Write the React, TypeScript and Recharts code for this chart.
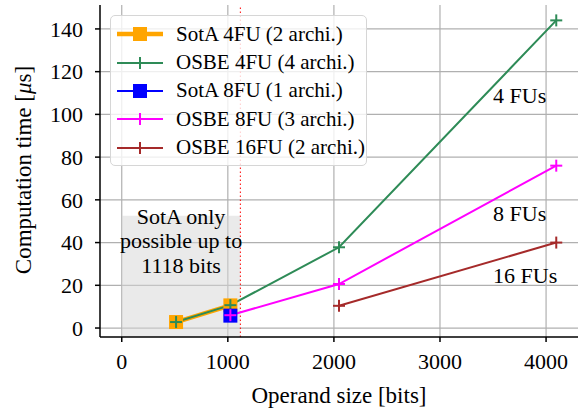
import React from 'react';
import { ComposedChart, Line, XAxis, YAxis, CartesianGrid, ReferenceArea, ReferenceLine, ReferenceDot } from 'recharts';

// operand sizes (bits) and computation times (µs)
const sota4Sizes = [512, 1024];
const sota4Times = [2.8, 10.6];
const osbe4Sizes = [512, 1024, 2048, 4096];
const osbe4Times = [2.8, 10.7, 37.8, 144.0];
const sota8Sizes = [1024];
const sota8Times = [5.8];
const osbe8Sizes = [1024, 2048, 4096];
const osbe8Times = [6.0, 20.6, 76.0];
const osbe16Sizes = [2048, 4096];
const osbe16Times = [10.4, 40.0];

const xTicks = [0, 1000, 2000, 3000, 4000];
const yTicks = [0, 20, 40, 60, 80, 100, 120, 140];

const sotaLimit = 1118;
const sotaRegionTop = 52.5;

const FONT = '"Liberation Serif", "DejaVu Serif", serif';

type Marker = 'square' | 'plus';

interface SeriesDef {
  name: string;
  color: string;
  marker: Marker;
  width: number;
  sizes: number[];
  times: number[];
}

const series: SeriesDef[] = [
  { name: 'SotA 4FU (2 archi.)', color: '#FFA500', marker: 'square', width: 4.5, sizes: sota4Sizes, times: sota4Times },
  { name: 'OSBE 4FU (4 archi.)', color: '#2E8B57', marker: 'plus', width: 2, sizes: osbe4Sizes, times: osbe4Times },
  { name: 'SotA 8FU (1 archi.)', color: '#0000FF', marker: 'square', width: 2, sizes: sota8Sizes, times: sota8Times },
  { name: 'OSBE 8FU (3 archi.)', color: '#FF00FF', marker: 'plus', width: 2, sizes: osbe8Sizes, times: osbe8Times },
  { name: 'OSBE 16FU (2 archi.)', color: '#A52A2A', marker: 'plus', width: 2, sizes: osbe16Sizes, times: osbe16Times },
];

const toPoints = (sizes: number[], times: number[]) => sizes.map((x, i) => ({ x, y: times[i] }));

const drawMarker = (marker: Marker, color: string, cx: number, cy: number, key?: string) => {
  if (marker === 'square') {
    return <rect key={key} x={cx - 7} y={cy - 7} width={14} height={14} fill={color} />;
  }
  return (
    <g key={key}>
      <line x1={cx - 6} y1={cy} x2={cx + 6} y2={cy} stroke={color} strokeWidth={2} />
      <line x1={cx} y1={cy - 6} x2={cx} y2={cy + 6} stroke={color} strokeWidth={2} />
    </g>
  );
};

const makeDot = (s: SeriesDef) => (props: any) => {
  const { cx, cy, index } = props;
  if (cx == null || cy == null) return <g key={`${s.name}-${index}`} />;
  return drawMarker(s.marker, s.color, cx, cy, `${s.name}-${index}`);
};

const textLabel = (lines: string[], anchor: 'start' | 'middle', lineHeight: number) => (props: any) => {
  const { x, y } = props.viewBox;
  const start = y - ((lines.length - 1) * lineHeight) / 2;
  return (
    <text x={x} y={start} textAnchor={anchor} dominantBaseline="central" fontFamily={FONT} fontSize={22} fill="#000">
      {lines.map((l, i) => (
        <tspan key={i} x={x} y={start + i * lineHeight}>{l}</tspan>
      ))}
    </text>
  );
};

const ChartLegend = () => (
  <div
    style={{
      position: 'absolute', left: 110, top: 15, width: 257, height: 151, boxSizing: 'border-box',
      border: '1.5px solid #d6d6d6', borderRadius: 5, background: 'rgba(255,255,255,0.8)',
      fontFamily: FONT, fontSize: 21, paddingTop: 4,
    }}
  >
    {series.map((s) => (
      <div key={s.name} style={{ display: 'flex', alignItems: 'center', height: 28.4 }}>
        <svg width={65} height={28} style={{ flex: 'none' }}>
          <line x1={6} y1={14} x2={52} y2={14} stroke={s.color} strokeWidth={s.width} />
          {drawMarker(s.marker, s.color, 29, 14)}
        </svg>
        <span style={{ whiteSpace: 'nowrap' }}>{s.name}</span>
      </div>
    ))}
  </div>
);

export default function App() {
  return (
    <div style={{ position: 'absolute', left: 0, top: 0, width: 584, height: 410, background: '#fff' }}>
      <ComposedChart width={584} height={410} margin={{ top: 5, right: 6, left: 0, bottom: 0 }}>
        <CartesianGrid stroke="#b0b0b0" strokeWidth={1.2} horizontalValues={yTicks} verticalValues={xTicks} />
        <ReferenceArea
          x1={0}
          x2={sotaLimit}
          y1={-4.2}
          y2={sotaRegionTop}
          fill="#d6d6d6"
          fillOpacity={0.5}
          stroke="none"
          ifOverflow="hidden"
        />
        <ReferenceLine x={sotaLimit} stroke="#ff0000" strokeWidth={1} strokeDasharray="1.5 2.5" />
        <XAxis
          type="number"
          dataKey="x"
          domain={[-205, 4301]}
          ticks={xTicks}
          allowDataOverflow
          height={73}
          tick={{ fontSize: 22, fontFamily: FONT, fill: '#000' }}
          tickSize={5}
          tickLine={{ stroke: '#000', strokeWidth: 1.5 }}
          axisLine={{ stroke: '#000', strokeWidth: 1.5 }}
          tickMargin={11}
          label={{ value: 'Operand size [bits]', position: 'insideBottom', offset: 7, fontSize: 23, fontFamily: FONT, fill: '#000' }}
        />
        <XAxis xAxisId="top" orientation="top" type="number" domain={[-205, 4301]} height={0} tick={false} tickLine={false} axisLine={{ stroke: '#000', strokeWidth: 1.5 }} />
        <YAxis
          type="number"
          domain={[-4.2, 151.2]}
          ticks={yTicks}
          allowDataOverflow
          width={100}
          tick={{ fontSize: 22, fontFamily: FONT, fill: '#000' }}
          tickSize={5}
          tickLine={{ stroke: '#000', strokeWidth: 1.5 }}
          axisLine={{ stroke: '#000', strokeWidth: 1.5 }}
          tickMargin={12}
          label={(props: any) => (
            <text
              x={23}
              y={170}
              transform="rotate(-90 23 170)"
              textAnchor="middle"
              dominantBaseline="central"
              fontFamily={FONT}
              fontSize={23}
              fill="#000"
            >
              Computation time [<tspan fontStyle="italic">μ</tspan>s]
            </text>
          )}
        />
        <YAxis yAxisId="right" orientation="right" domain={[0, 1]} width={0} tick={false} tickLine={false} axisLine={{ stroke: '#000', strokeWidth: 1.5 }} />
        {series.map((s) => (
          <Line
            key={s.name}
            data={toPoints(s.sizes, s.times)}
            dataKey="y"
            name={s.name}
            stroke={s.color}
            strokeWidth={s.width}
            dot={makeDot(s)}
            activeDot={false}
            isAnimationActive={false}
          />
        ))}
        <ReferenceDot x={sotaLimit / 2} y={41} r={0} ifOverflow="visible" label={textLabel(['SotA only', 'possible up to', '1118 bits'], 'middle', 24.5)} />
        <ReferenceDot x={3500} y={109} r={0} ifOverflow="visible" label={textLabel(['4 FUs'], 'start', 24)} />
        <ReferenceDot x={3500} y={54} r={0} ifOverflow="visible" label={textLabel(['8 FUs'], 'start', 24)} />
        <ReferenceDot x={3500} y={25} r={0} ifOverflow="visible" label={textLabel(['16 FUs'], 'start', 24)} />
      </ComposedChart>
      <ChartLegend />
    </div>
  );
}
